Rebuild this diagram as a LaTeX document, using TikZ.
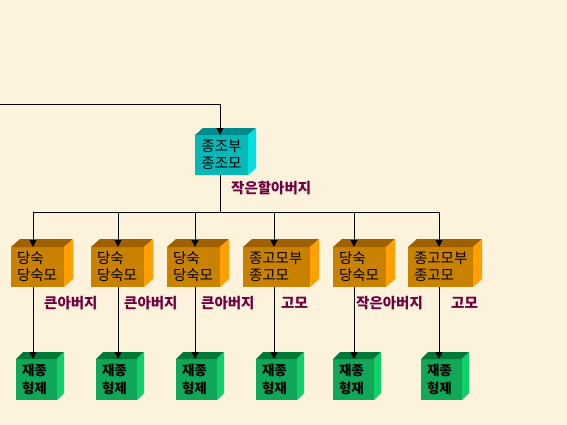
\documentclass[tikz,border=0pt]{standalone}
\usepackage{fontspec}
\newfontfamily\kr{Noto Sans CJK KR}
\usetikzlibrary{arrows.meta}
\definecolor{bgc}{HTML}{FDF3DD}
\definecolor{cyanfront}{HTML}{08B8B8}
\definecolor{cyantop}{HTML}{008C8C}
\definecolor{cyanside}{HTML}{00E0E0}
\definecolor{orgfront}{HTML}{C88200}
\definecolor{orgtop}{HTML}{A05F00}
\definecolor{orgside}{HTML}{FFA000}
\definecolor{grnfront}{HTML}{10A858}
\definecolor{grntop}{HTML}{007838}
\definecolor{grnside}{HTML}{10D068}
\definecolor{lblc}{HTML}{700040}
\newcommand\cubefaces[4]{%
  \fill[#4top] (#1.north west) -- ++(#2,-#3) -- ([shift={(#2,-#3)}]#1.north east) -- (#1.north east) -- cycle;
  \fill[#4side] (#1.north east) -- ++(#2,-#3) -- ([shift={(#2,-#3)}]#1.south east) -- (#1.south east) -- cycle;}
\tikzset{
  boxbase/.style={anchor=north west, inner sep=0pt, outer sep=0pt, font=\kr\fontsize{14.5}{17}\selectfont, text=black},
  cbox/.style={boxbase, fill=cyanfront, minimum width=53pt, minimum height=40pt, align=center},
  obox/.style={boxbase, fill=orgfront, minimum height=40pt, inner xsep=6pt, text width=#1-12pt, align=left},
  gbox/.style={boxbase, fill=grnfront, minimum height=41pt, inner xsep=6pt, text width=29pt, align=left, font=\kr\bfseries\fontsize{13.5}{18}\selectfont},
  lbl/.style={anchor=west, inner sep=0pt, text=lblc, font=\kr\bfseries\fontsize{14.5}{16}\selectfont},
  conn/.style={line width=1pt, draw=black},
  arr/.style={conn, -{Triangle[length=7pt,width=7pt]}}
}
\begin{document}
\begin{tikzpicture}[x=1pt,y=-1pt]
\fill[bgc] (0,0) rectangle (567,425);
\useasboundingbox (0,0) rectangle (567,425);
% top box
\node[cbox] (cz) at (195,135) {종조부\\종조모};
\cubefaces{cz}{8}{7}{cyan}
% orange boxes
\node[obox=53pt] (o1) at (11,247) {당숙\\당숙모};
\node[obox=53pt] (o2) at (91,247) {당숙\\당숙모};
\node[obox=53pt] (o3) at (167,247) {당숙\\당숙모};
\node[obox=67pt] (o4) at (243,247) {종고모부\\종고모};
\node[obox=53pt] (o5) at (333,247) {당숙\\당숙모};
\node[obox=65pt] (o6) at (408,247) {종고모부\\종고모};
\foreach \n in {o1,o2,o3,o4,o5,o6} {\cubefaces{\n}{9}{8}{org}}
% green boxes
\node[gbox, minimum width=41pt] (g1) at (16,359) {재종\\형제};
\node[gbox, minimum width=41pt] (g2) at (96,359) {재종\\형제};
\node[gbox, minimum width=41pt] (g3) at (176,359) {재종\\형제};
\node[gbox, minimum width=41pt] (g4) at (256,359) {재종\\형재};
\node[gbox, minimum width=41pt] (g5) at (333,359) {재종\\형재};
\node[gbox, minimum width=41pt] (g6) at (421,359) {재종\\형제};
\foreach \n in {g1,g2,g3,g4,g5,g6} {\cubefaces{\n}{7}{7}{grn}}
% connectors
\coordinate (start) at (0,105);
\coordinate (bar) at (220,212);
\draw[arr] (start) -- (220,105) -- (cz.north -| 220,0);
\draw[conn] (cz.south -| 220,0) -- (bar);
\draw[conn] (33,212) -- (439,212);
\foreach \n/\x in {o1/33,o2/118,o3/195,o4/274,o5/354,o6/439} {
  \draw[arr] (\x,212) -- (\n.north -| \x,0);
}
\foreach \o/\g/\x in {o1/g1/33,o2/g2/118,o3/g3/195,o4/g4/274,o5/g5/354,o6/g6/439} {
  \draw[arr] (\o.south -| \x,0) -- (\g.north -| \x,0);
}
% labels
\node[lbl] (l0) at (231,188) {작은할아버지};
\node[lbl] (l1) at (44,303) {큰아버지};
\node[lbl] (l2) at (124,303) {큰아버지};
\node[lbl] (l3) at (201,303) {큰아버지};
\node[lbl] (l4) at (281,303) {고모};
\node[lbl] (l5) at (356,303) {작은아버지};
\node[lbl] (l6) at (451,303) {고모};
\end{tikzpicture}
\end{document}
